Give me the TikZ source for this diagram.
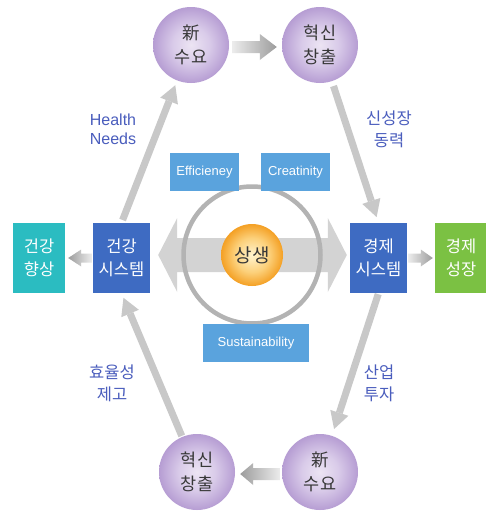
\documentclass[tikz,border=0pt]{standalone}
\usepackage{fontspec}
\setmainfont{Liberation Sans}
\newfontfamily\kr{Noto Sans CJK KR}
\usetikzlibrary{arrows.meta,calc}
\definecolor{boxblue}{HTML}{3E6BC2}
\definecolor{tealbox}{HTML}{2BBCC1}
\definecolor{greenbox}{HTML}{7BC143}
\definecolor{lightbox}{HTML}{5AA3DD}
\definecolor{labelblue}{HTML}{4A5DBD}
\definecolor{slantgray}{HTML}{C8C8C8}
\definecolor{biggray}{HTML}{D3D3D3}
\definecolor{ringgray}{HTML}{B3B3B3}
\definecolor{txtdark}{HTML}{383838}
\definecolor{arrlight}{HTML}{ECECEC}
\definecolor{arrdark}{HTML}{9C9C9C}
\definecolor{purpA}{HTML}{ECE4F3}
\definecolor{purpB}{HTML}{D9CBE9}
\definecolor{purpC}{HTML}{B69DD3}
\definecolor{oraA}{HTML}{FFF4CF}
\definecolor{oraB}{HTML}{FCD07A}
\definecolor{oraC}{HTML}{F4A024}
\pgfdeclareradialshading{purpball}{\pgfpoint{0bp}{0bp}}{color(0bp)=(purpA); color(12bp)=(purpB); color(25bp)=(purpC); color(50bp)=(purpC)}
\pgfdeclareradialshading{oraball}{\pgfpoint{0bp}{0bp}}{color(0bp)=(oraA); color(14bp)=(oraB); color(25bp)=(oraC); color(50bp)=(oraC)}
% #1 tail, #2 tip, #3 signed offset tip->head base, #4 shaft half, #5 head half, #6 shade options
\newcommand\flatarrow[6]{%
  \path[#6] let \p1=#1, \p2=#2 in
    (\x1,\y1+#4) -- (\x2+#3,\y1+#4) -- (\x2+#3,\y1+#5) -- (\x2,\y1)
    -- (\x2+#3,\y1-#5) -- (\x2+#3,\y1-#4) -- (\x1,\y1-#4) -- cycle;}
\tikzset{
  ball/.style={circle, minimum size=76pt, inner sep=0pt, shading=purpball, align=center,
    text=txtdark, font=\kr\fontsize{17.5}{24}\selectfont},
  sysbox/.style={rectangle, fill=boxblue, minimum width=57pt, minimum height=70pt, inner sep=0pt,
    align=center, text=white, font=\kr\fontsize{16.5}{23}\selectfont},
  endbox/.style={sysbox, minimum width=52pt},
  keybox/.style={rectangle, fill=lightbox, minimum height=38pt, inner sep=0pt, text=white,
    font=\fontsize{13}{15}\selectfont},
  lbl/.style={align=center, text=labelblue, font=\kr\fontsize{16.5}{22}\selectfont},
  slant/.style={draw=slantgray, line width=7pt,
    -{Triangle[length=17pt, width=19pt, line width=0pt]}}
}
\begin{document}
\begin{tikzpicture}[x=1pt, y=-1pt]
\useasboundingbox (0,0) rectangle (486,514);
\fill[white] (0,0) rectangle (486,514);

% circles
\node[ball] (nd1) at (191,45) {新\\수요};
\node[ball] (ic1) at (320,45) {혁신\\창출};
\node[ball] (ic2) at (197,472) {혁신\\창출};
\node[ball] (nd2) at (320,472) {新\\수요};

% boxes
\node[endbox, fill=tealbox] (hi) at (39,258) {건강\\향상};
\node[sysbox] (hs) at (121.5,258) {건강\\시스템};
\node[sysbox] (gs) at (378.5,258) {경제\\시스템};
\node[endbox, fill=greenbox] (gg) at (461,258) {경제\\성장};

% big double arrow
\path[fill=biggray] let \p1=($(hs.east)+(8,-3)$), \p2=($(gs.west)+(-3,-3)$) in
  (\x1,\y1) -- (\x1+19pt,\y1+37pt) -- (\x1+19pt,\y1+17pt) -- (\x2-19pt,\y1+17pt)
  -- (\x2-19pt,\y1+37pt) -- (\x2,\y1) -- (\x2-19pt,\y1-37pt) -- (\x2-19pt,\y1-17pt)
  -- (\x1+19pt,\y1-17pt) -- (\x1+19pt,\y1-37pt) -- cycle;

% ring and centre
\node[circle, draw=ringgray, line width=4.5pt, minimum size=137pt, inner sep=0pt] (ring) at (252,255) {};
\node[circle, minimum size=62pt, inner sep=0pt, shading=oraball, text=txtdark,
  font=\kr\fontsize{19}{22}\selectfont] (ss) at (252,255) {상생};

% key boxes
\node[keybox, minimum width=69pt] (eff) at (204.5,172) {Efficieney};
\node[keybox, minimum width=69pt] (cre) at (295.5,172) {Creatinity};
\node[keybox, minimum width=106pt] (sus) at (256,343) {Sustainability};

% flat gradient arrows
\flatarrow{($(nd1.east)+(3,2)$)}{($(ic1.west)+(-5,2)$)}{-17pt}{6pt}{13pt}{left color=arrlight, right color=arrdark}
\flatarrow{($(nd2.west)+(-2,2)$)}{($(ic2.east)+(5,2)$)}{13pt}{6pt}{11pt}{left color=arrdark, right color=arrlight}
\flatarrow{($(hs.west)+(-1,0)$)}{($(hi.east)+(3,0)$)}{13pt}{4.5pt}{8.5pt}{left color=arrdark, right color=arrlight}
\flatarrow{($(gs.east)+(1,0)$)}{($(gg.west)+(-2,0)$)}{-12pt}{4.5pt}{8.5pt}{left color=arrlight, right color=arrdark}

% slanted arrows
\draw[slant, shorten <=3pt, shorten >=5pt] (hs.north) -- (nd1);
\draw[slant, shorten <=5pt, shorten >=6pt] (ic1) -- (gs.north);
\draw[slant, shorten <=1pt, shorten >=7pt] (gs.south) -- (nd2);
\draw[slant, shorten <=1pt, shorten >=5pt] (ic2) -- (hs.south);

% labels
\node[lbl, font=\fontsize{16}{19}\selectfont] (l1) at (113,129) {Health\\Needs};
\node[lbl] (l2) at (389,129) {신성장\\동력};
\node[lbl] (l3) at (112,383) {효율성\\제고};
\node[lbl] (l4) at (379,383) {산업\\투자};
\end{tikzpicture}
\end{document}
